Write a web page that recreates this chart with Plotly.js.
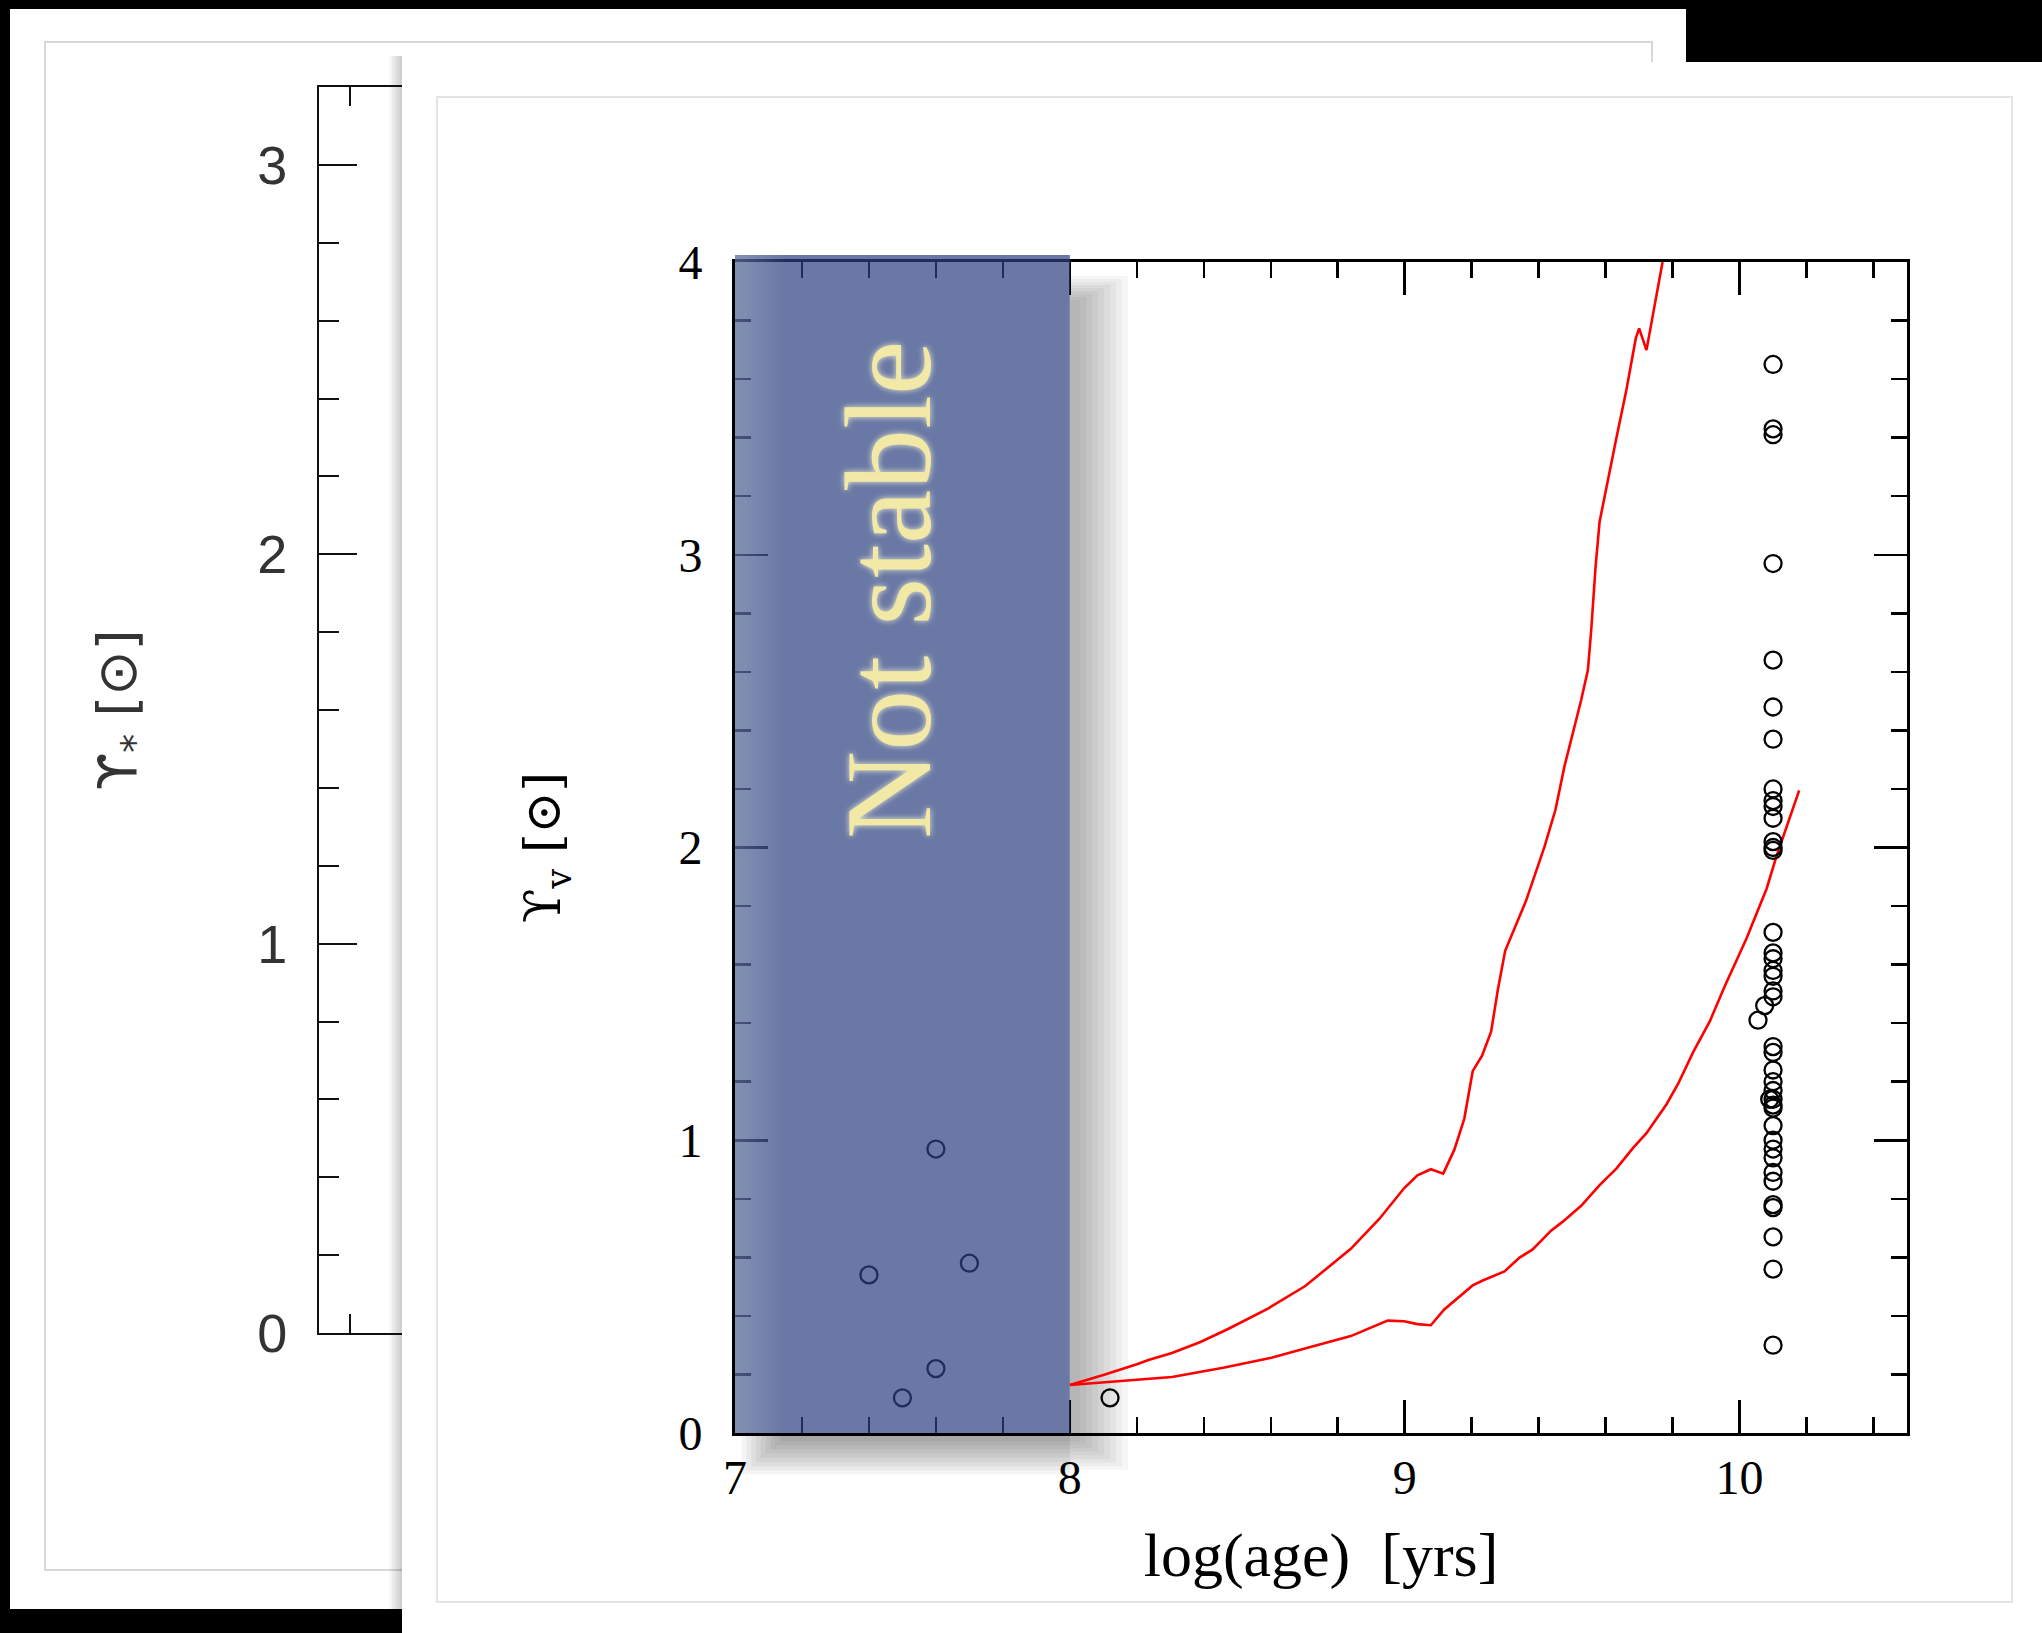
<!DOCTYPE html>
<html><head><meta charset="utf-8">
<script src="https://cdn.plot.ly/plotly-3.0.1.min.js"></script>
<style>html,body{margin:0;padding:0;background:#000;} #chart{width:2042px;height:1633px;}</style>
</head><body><div id="chart"></div>
<script>
// ---------------- data ----------------
const obsAge = [7.60, 7.40, 7.70, 7.60, 7.50, 8.12,
  10.1, 10.1, 10.1, 10.1, 10.1, 10.1, 10.1, 10.1, 10.1, 10.1, 10.1, 10.1, 10.1, 10.1,
  10.1, 10.1, 10.1, 10.1, 10.1, 10.1, 10.1, 10.075, 10.055,
  10.1, 10.1, 10.1, 10.1, 10.1, 10.09, 10.1, 10.1, 10.1, 10.1, 10.1, 10.1, 10.1, 10.1,
  10.1, 10.1, 10.1, 10.1, 10.1, 10.1];
const obsUpsilon = [0.97, 0.54, 0.58, 0.22, 0.12, 0.12,
  3.65, 3.43, 3.41, 2.97, 2.64, 2.48, 2.37, 2.20, 2.16, 2.14, 2.10, 2.02, 2.00, 1.99,
  1.71, 1.64, 1.62, 1.58, 1.56, 1.51, 1.49, 1.46, 1.41,
  1.32, 1.30, 1.24, 1.20, 1.17, 1.14, 1.14, 1.12, 1.11, 1.05, 1.00, 0.97, 0.94, 0.89,
  0.86, 0.78, 0.77, 0.67, 0.56, 0.30];

const upperAge = [8.0, 8.1, 8.2, 8.237, 8.305, 8.39, 8.474, 8.593, 8.703, 8.839, 8.924, 8.983,
  8.998, 9.038, 9.078, 9.115, 9.148, 9.178, 9.203, 9.231, 9.258, 9.278, 9.300, 9.362,
  9.417, 9.450, 9.477, 9.527, 9.547, 9.557, 9.570, 9.582, 9.602, 9.632, 9.662, 9.690,
  9.700, 9.722, 9.770];
const upperUpsilon = [0.164, 0.198, 0.235, 0.250, 0.273, 0.311, 0.356, 0.426, 0.502, 0.629, 0.731, 0.812,
  0.836, 0.880, 0.901, 0.886, 0.967, 1.074, 1.236, 1.289, 1.371, 1.513, 1.647, 1.817,
  2.001, 2.128, 2.277, 2.504, 2.606, 2.743, 2.959, 3.113, 3.232, 3.398, 3.563, 3.739,
  3.773, 3.699, 4.0];

const lowerAge = [8.0, 8.1, 8.237, 8.305, 8.458, 8.602, 8.713, 8.839, 8.949, 8.998, 9.038, 9.078,
  9.118, 9.163, 9.203, 9.233, 9.298, 9.343, 9.382, 9.437, 9.472, 9.527, 9.582, 9.632,
  9.682, 9.722, 9.782, 9.817, 9.861, 9.911, 9.956, 10.021, 10.081, 10.111, 10.178];
const lowerUpsilon = [0.164, 0.173, 0.184, 0.191, 0.223, 0.257, 0.292, 0.331, 0.384, 0.382, 0.372, 0.368,
  0.422, 0.465, 0.504, 0.521, 0.552, 0.599, 0.627, 0.691, 0.722, 0.776, 0.847, 0.903,
  0.974, 1.024, 1.123, 1.194, 1.300, 1.406, 1.527, 1.690, 1.860, 1.973, 2.195];

const xTicks = [7, 8, 9, 10];
const yTicks = [0, 1, 2, 3, 4];
const backYTicks = [0, 1, 2, 3];
const unstableRange = [7, 8];

// ---------------- layout helpers (page pixels -> paper) ----------------
const W = 2042, H = 1633;
const px = v => v / W, py = v => 1 - v / H;
function rectPx(x0, y0, x1, y1, fill, extra) {
  return Object.assign({type: 'rect', xref: 'paper', yref: 'paper', x0: px(x0), x1: px(x1),
    y0: py(y1), y1: py(y0), fillcolor: fill, line: {width: 0}, layer: 'below'}, extra || {});
}

const shapes = [];
// back panel
shapes.push(rectPx(10, 9, 1686, 1609, '#ffffff'));
shapes.push(rectPx(45, 42, 1652, 1570, 'rgba(0,0,0,0)', {line: {color: '#d8d8d8', width: 2}}));
// shadow of front panel on back panel
for (let k = 1; k <= 5; k++) shapes.push(rectPx(402 - 2.5 * k, 56, 402, 1633, 'rgba(0,0,0,0.04)'));
// front panel
shapes.push(rectPx(402, 62, 2042, 1633, '#ffffff'));
shapes.push(rectPx(437, 97, 2012, 1602, 'rgba(0,0,0,0)', {line: {color: '#e4e4e4', width: 2}}));
// soft drop shadow of the "not stable" box (right and bottom sides only)
for (let k = 0; k < 9; k++) {
  const e = 6 * k;
  shapes.push(rectPx(1070, 300 - 0.5 * e, 1070 + 10 + e, 1433 + 8 + 0.6 * e, 'rgba(0,0,0,0.036)'));
  shapes.push(rectPx(780 - 0.8 * e, 1433, 1070, 1433 + 8 + 0.7 * e, 'rgba(0,0,0,0.042)'));
}
// translucent blue box over the unstable age range
shapes.push({type: 'rect', xref: 'x', yref: 'y domain', x0: unstableRange[0], x1: unstableRange[1],
  y0: 0, y1: 1.006, fillcolor: 'rgba(43,64,128,0.705)', line: {width: 0}, layer: 'above'});
for (let k = 1; k <= 12; k++) shapes.push({type: 'rect', xref: 'x', yref: 'y domain',
  x0: unstableRange[0], x1: unstableRange[0] + 0.012 * k, y0: 0, y1: 1.006,
  fillcolor: 'rgba(255,255,255,0.02)', line: {width: 0}, layer: 'above'});

const serif = 'Liberation Serif, DejaVu Serif, serif';

const traces = [
  {type: 'scatter', mode: 'lines', x: upperAge, y: upperUpsilon, name: 'model upper',
   line: {color: '#ff0000', width: 2.6}, hoverinfo: 'skip'},
  {type: 'scatter', mode: 'lines', x: lowerAge, y: lowerUpsilon, name: 'model lower',
   line: {color: '#ff0000', width: 2.6}, hoverinfo: 'skip'},
  {type: 'scatter', mode: 'markers', x: obsAge, y: obsUpsilon, name: 'clusters',
   marker: {symbol: 'circle-open', size: 17, color: '#000', line: {width: 2.3, color: '#000'}}},
  {type: 'scatter', mode: 'markers', x: [], y: [], xaxis: 'x2', yaxis: 'y2', showlegend: false}
];

const layout = {
  width: W, height: H,
  margin: {l: 0, r: 0, t: 0, b: 0, pad: 0, autoexpand: false},
  paper_bgcolor: '#000000', plot_bgcolor: 'rgba(0,0,0,0)',
  showlegend: false,
  xaxis: {domain: [px(735), px(1907)], anchor: 'y', range: [7, 10.5], tickvals: xTicks,
    showline: true, linecolor: '#000', linewidth: 3, mirror: 'allticks',
    ticks: 'inside', ticklen: 33, tickwidth: 2.5, tickcolor: '#000',
    minor: {dtick: 0.2, tick0: 7, ticks: 'inside', ticklen: 16, tickwidth: 2.5, tickcolor: '#000', showgrid: false},
    showgrid: false, zeroline: false, ticklabelstandoff: 0,
    tickfont: {family: serif, size: 48, color: '#000'},
    title: {text: 'log(age)\u00a0 [yrs]', font: {family: serif, size: 62, color: '#000'}, standoff: 31},
    automargin: true, fixedrange: true},
  yaxis: {domain: [py(1433), py(262)], anchor: 'x', range: [0, 4], tickvals: yTicks,
    showline: true, linecolor: '#000', linewidth: 3, mirror: 'allticks',
    ticks: 'inside', ticklen: 33, tickwidth: 2.5, tickcolor: '#000',
    minor: {dtick: 0.2, tick0: 0, ticks: 'inside', ticklen: 16, tickwidth: 2.5, tickcolor: '#000', showgrid: false},
    showgrid: false, zeroline: false, ticklabelstandoff: 20,
    tickfont: {family: serif, size: 48, color: '#000'},
    title: {text: '\u03D2<sub>v</sub> [\u2299]', font: {family: 'DejaVu Serif, serif', size: 50, color: '#000'}, standoff: 102},
    automargin: true, fixedrange: true},
  xaxis2: {domain: [px(319), px(402)], anchor: 'y2', range: [7, 7.535], tickvals: [7.2],
    showline: true, linecolor: '#111', linewidth: 2, mirror: 'allticks',
    ticks: 'inside', ticklen: 19, tickwidth: 2, tickcolor: '#111',
    showticklabels: false, showgrid: false, zeroline: false, fixedrange: true},
  yaxis2: {domain: [py(1333), py(87)], anchor: 'x2', range: [0, 3.2], tickvals: backYTicks,
    showline: true, linecolor: '#111', linewidth: 2, mirror: false,
    ticks: 'inside', ticklen: 38, tickwidth: 2, tickcolor: '#111',
    minor: {dtick: 0.2, tick0: 0, ticks: 'inside', ticklen: 20, tickwidth: 2, tickcolor: '#111', showgrid: false},
    showgrid: false, zeroline: false, ticklabelstandoff: 19,
    tickfont: {family: 'Liberation Sans, Arial, sans-serif', size: 54, color: '#333'},
    title: {text: '\u03D2<sub>*</sub> [\u2299]', font: {family: 'DejaVu Sans, sans-serif', size: 54, color: '#333'}, standoff: 103},
    automargin: true, fixedrange: true},
  shapes: shapes,
  annotations: [
    {xref: 'x', yref: 'y', x: 7.46, y: 2.88, text: 'Not stable', textangle: -90, showarrow: false,
     font: {family: serif, size: 122, color: '#f2e9a6', shadow: '0px 0px 6px rgba(255,252,215,0.9)'}}
  ]
};

Plotly.newPlot('chart', traces, layout, {displayModeBar: false, staticPlot: true});
</script></body></html>
